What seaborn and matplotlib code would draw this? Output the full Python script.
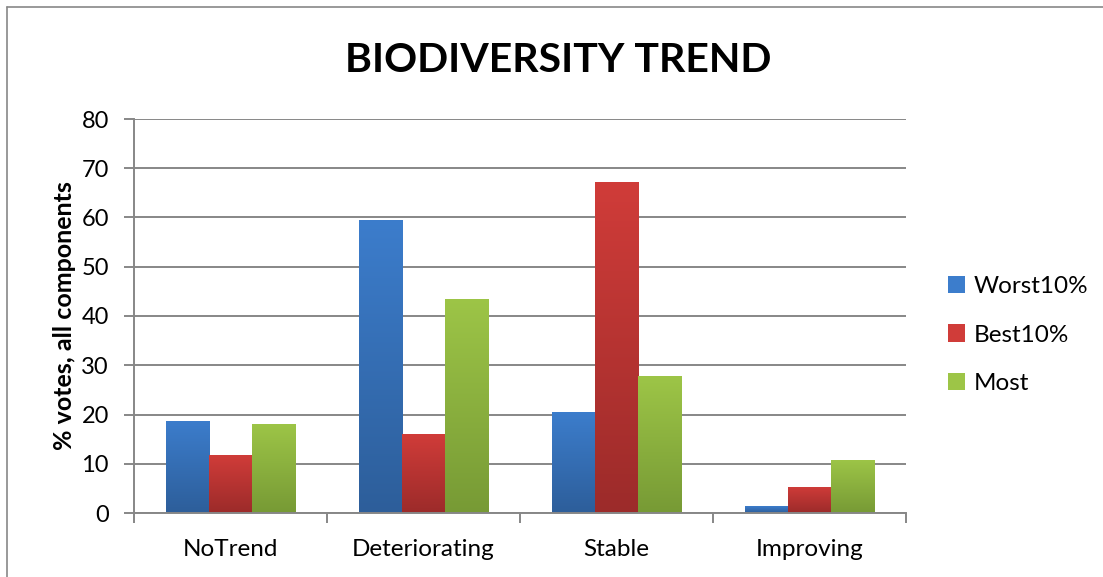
import numpy as np
import pandas as pd
import matplotlib
matplotlib.use("Agg")
import matplotlib.pyplot as plt
import seaborn as sns
from matplotlib.colors import LinearSegmentedColormap
from matplotlib.patches import Rectangle
from matplotlib.lines import Line2D

categories = ["NoTrend", "Deteriorating", "Stable", "Improving"]
series = ["Worst10%", "Best10%", "Most"]
worst10 = [18.7, 59.5, 20.5, 1.4]
best10 = [11.7, 16.0, 67.2, 5.3]
most = [18.1, 43.5, 27.8, 10.8]
yticks = [0, 10, 20, 30, 40, 50, 60, 70, 80]

top_colors = ["#3C7DCC", "#D03C39", "#9DC547"]
bottom_colors = ["#2D5E9A", "#9C2B2A", "#779A35"]

df = pd.DataFrame({
    "category": categories * 3,
    "series": [s for s in series for _ in categories],
    "value": worst10 + best10 + most,
})

sns.set_theme(style="white")
plt.rcParams["font.family"] = ["Lato", "DejaVu Sans"]
plt.rcParams["text.color"] = "black"
plt.rcParams["axes.labelcolor"] = "black"

fig = plt.figure(figsize=(11.03, 5.77), dpi=100)
ax = fig.add_axes([134 / 1103, 1 - 513 / 577, (906 - 134) / 1103, (513 - 119) / 577])

sns.barplot(data=df, x="category", y="value", hue="series", order=categories,
            hue_order=series, palette=top_colors, width=0.67, ax=ax,
            legend=False, saturation=1, edgecolor="none", linewidth=0)

ax.set_xlim(-0.5, 3.5)
ax.set_ylim(0, 80)

# gradient fill for bars
bars = [p for p in ax.patches if isinstance(p, Rectangle)]
for i, p in enumerate(bars):
    s = i // len(categories)
    cmap = LinearSegmentedColormap.from_list("g", [bottom_colors[s], top_colors[s]])
    x0, y0 = p.get_x(), p.get_y()
    w, h = p.get_width(), p.get_height()
    if h <= 0:
        continue
    grad = np.linspace(0, 1, 256).reshape(-1, 1)
    im = ax.imshow(grad, cmap=cmap, origin="lower", aspect="auto",
                   extent=[x0, x0 + w, y0, y0 + h], zorder=p.get_zorder() + 0.1,
                   interpolation="bicubic")
    im.set_clip_path(p)
ax.set_xlim(-0.5, 3.5)
ax.set_ylim(0, 80)

# grid & spines
ax.set_yticks(yticks)
ax.yaxis.grid(True, color="#878787", linewidth=1.4)
ax.xaxis.grid(False)
ax.set_axisbelow(True)
for side in ["top", "right"]:
    ax.spines[side].set_visible(False)
for side in ["left", "bottom"]:
    ax.spines[side].set_visible(True)
    ax.spines[side].set_color("#878787")
    ax.spines[side].set_linewidth(1.4)

ax.tick_params(axis="y", which="major", left=True, length=7, width=1.4,
               color="#878787", labelsize=17, pad=11, labelcolor="black")
ax.set_xticks(np.arange(len(categories)))
ax.set_xticklabels(categories)
ax.set_xticks(np.arange(-0.5, len(categories), 1), minor=True)
ax.tick_params(axis="x", which="major", bottom=False, labelsize=17.5, pad=13, labelcolor="black")
ax.tick_params(axis="x", which="minor", bottom=True, length=7, width=1.4, color="#878787")

ax.set_xlabel("")
ax.set_ylabel("% votes, all components", fontsize=18, fontweight="bold", labelpad=4,
              color="black")

fig.suptitle("BIODIVERSITY TREND", x=558 / 1103, y=1 - 60 / 577, va="center",
             fontsize=29.5, fontweight="bold", color="black")

handles = [Rectangle((0, 0), 1, 1, facecolor=c, edgecolor="none") for c in top_colors]
fig.legend(handles, series, loc="center left", bbox_to_anchor=(926 / 1103, 1 - 335 / 577),
           frameon=False, fontsize=17.5, handlelength=0.7, handleheight=0.7,
           handletextpad=0.35, labelspacing=1.12)

# outer chart border (left and top visible)
fig.add_artist(Line2D([7 / 1103, 7 / 1103], [0, 1 - 7 / 577], transform=fig.transFigure,
                      color="#888888", linewidth=1.2))
fig.add_artist(Line2D([7 / 1103, 1], [1 - 7 / 577, 1 - 7 / 577], transform=fig.transFigure,
                      color="#888888", linewidth=1.2))

fig.savefig("out.png", dpi=100)
